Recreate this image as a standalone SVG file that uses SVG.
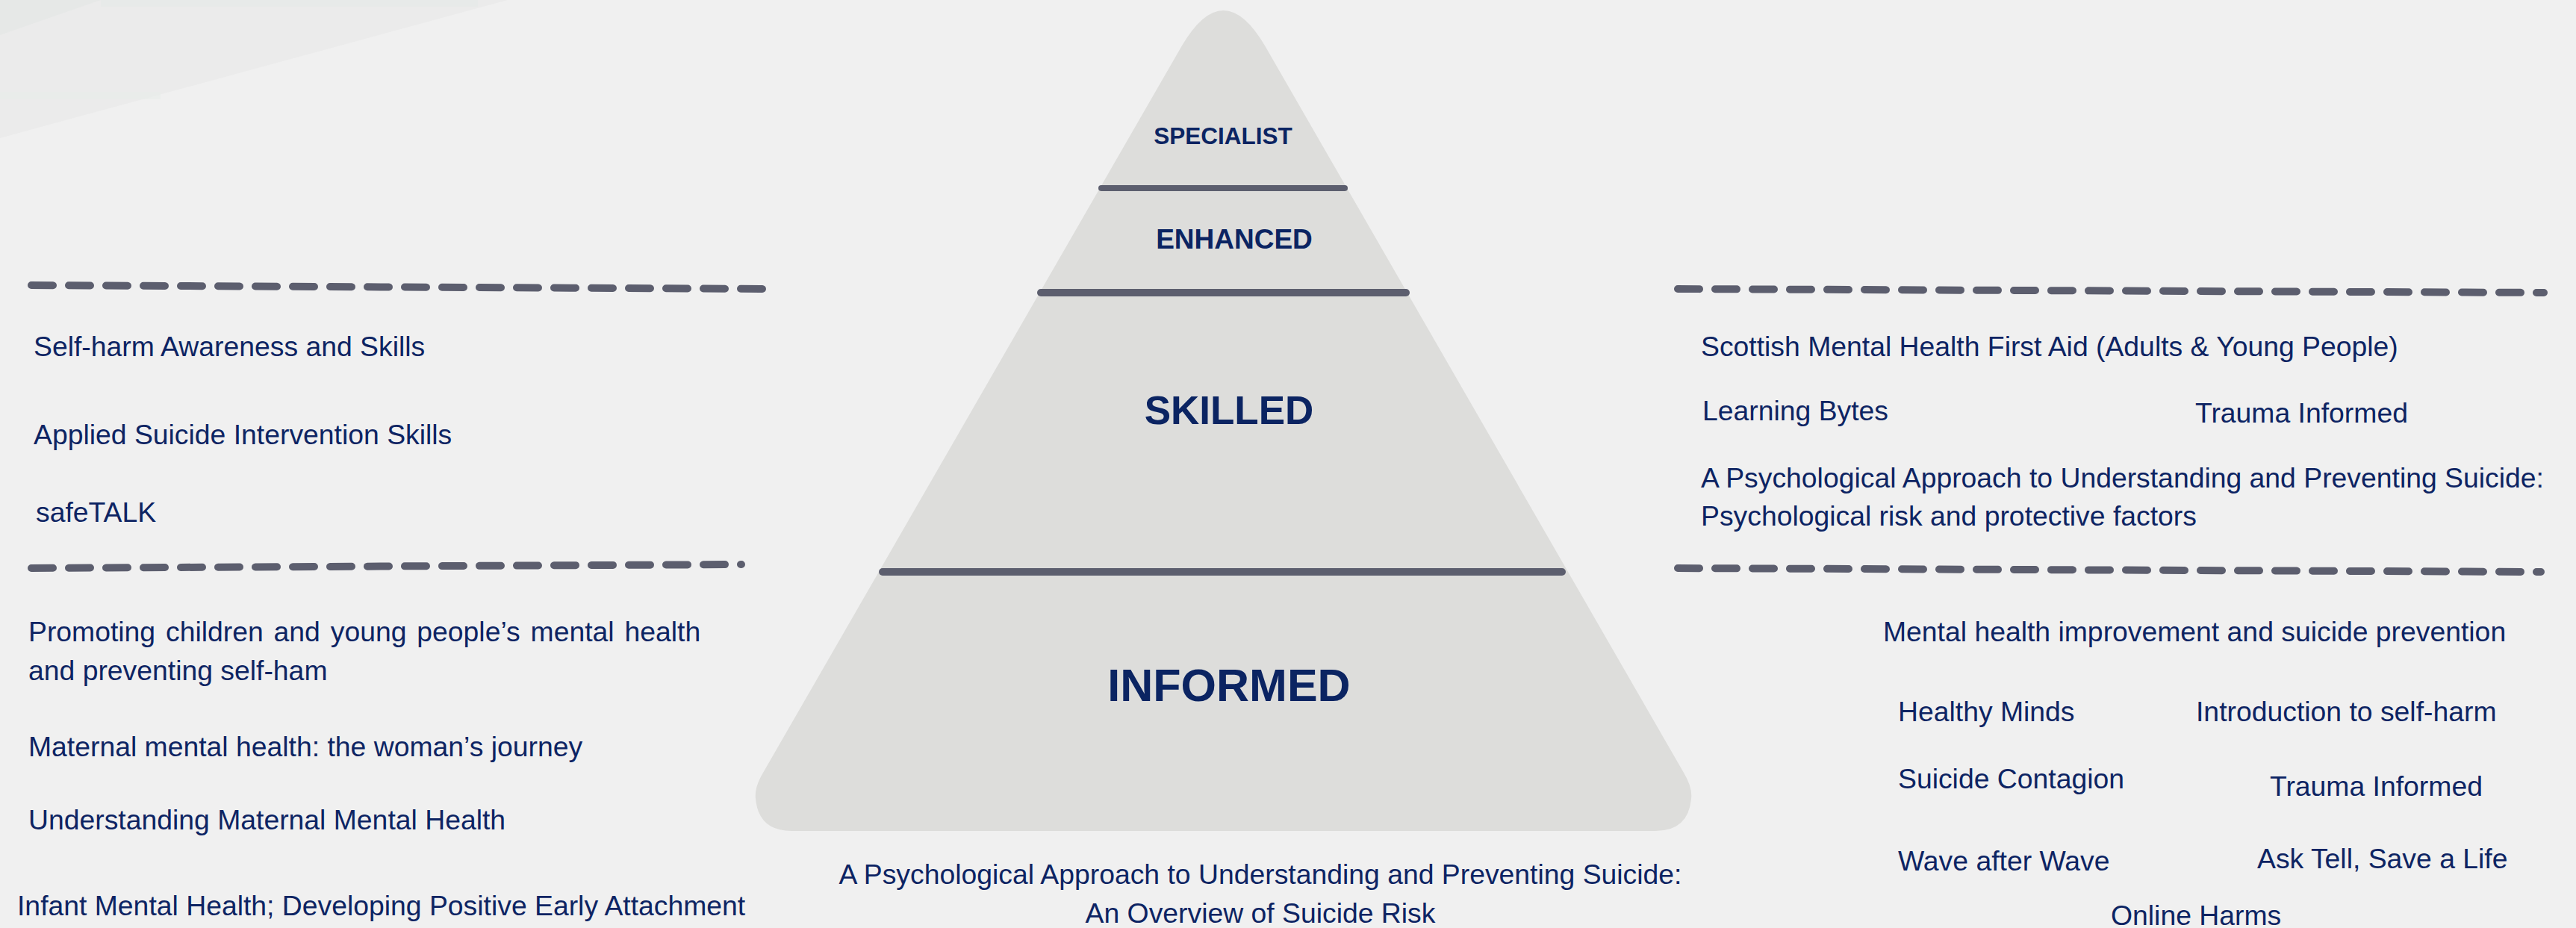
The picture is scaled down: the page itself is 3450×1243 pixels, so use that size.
<svg xmlns="http://www.w3.org/2000/svg" width="3450" height="1243" viewBox="0 0 3450 1243">
  <style>
    .item { font-family: "Liberation Sans", Arial, sans-serif; font-size: 37.35px; fill: #0d2463; }
    .tier { font-family: "Liberation Sans", Arial, sans-serif; font-weight: bold; fill: #0b2462; text-anchor: middle; }
    .rule { stroke: #5c5e6e; stroke-linecap: round; fill: none; }
    .dash { stroke: #5c5e6e; stroke-width: 10; stroke-linecap: round; stroke-dasharray: 29 21; fill: none; }
  </style>

  <!-- background -->
  <rect x="0" y="0" width="3450" height="1243" fill="#f0f0f0"/>
  <g id="corner-accent">
    <polygon points="0,0 680,0 0,185" fill="#ebebeb"/>
    <polygon points="0,0 135,0 0,47" fill="#e6e8e7"/>
    <rect x="0" y="123" width="215" height="10" fill="#e8ecea" opacity="0.7"/>
    <rect x="135" y="0" width="505" height="9" fill="#e6eae8" opacity="0.7"/>
  </g>

  <!-- pyramid body -->
  <g id="pyramid">
    <path d="M 1582.5 62 Q 1638.5 -34 1694.5 62
             L 2255 1035 Q 2267 1055 2265 1070 Q 2261 1113 2217 1113
             L 1060 1113 Q 1016 1113 1012 1070 Q 1010 1055 1022 1035 Z"
          fill="#dddddb"/>
    <line class="rule" x1="1475" y1="252" x2="1801" y2="252" stroke-width="8" stroke-linecap="butt"/>
    <line class="rule" x1="1394" y1="392" x2="1883" y2="392" stroke-width="10"/>
    <line class="rule" x1="1182" y1="766" x2="2092" y2="766" stroke-width="10"/>
  </g>

  <g id="tier-specialist"><text class="tier" x="1638" y="193" font-size="31.5">SPECIALIST</text></g>
  <g id="tier-enhanced"><text class="tier" x="1653" y="333" font-size="37">ENHANCED</text></g>
  <g id="tier-skilled"><text class="tier" x="1646" y="568" font-size="53">SKILLED</text></g>
  <g id="tier-informed"><text class="tier" x="1646" y="939" font-size="61">INFORMED</text></g>

  <g id="informed-caption">
    <text class="item" x="1688" y="1184" text-anchor="middle">A Psychological Approach to Understanding and Preventing Suicide:</text>
    <text class="item" x="1688" y="1236" text-anchor="middle">An Overview of Suicide Risk</text>
  </g>

  <!-- dashed separators -->
  <g id="connectors">
    <path class="dash" d="M 42 382 L 1022 387"/>
    <path class="dash" d="M 42 761 L 993 756"/>
    <path class="dash" d="M 2247 387 L 3407 392"/>
    <path class="dash" d="M 2247 761 L 3403 766"/>
  </g>

  <!-- skilled courses, left -->
  <g id="skilled-left">
    <text class="item" x="45" y="477">Self-harm Awareness and Skills</text>
    <text class="item" x="45" y="595">Applied Suicide Intervention Skills</text>
    <text class="item" x="48" y="699">safeTALK</text>
  </g>

  <!-- informed courses, left -->
  <g id="informed-left">
    <text class="item" x="38" y="859" word-spacing="3.5">Promoting children and young people’s mental health</text>
    <text class="item" x="38" y="911">and preventing self-ham</text>
    <text class="item" x="38" y="1013">Maternal mental health: the woman’s journey</text>
    <text class="item" x="38" y="1111">Understanding Maternal Mental Health</text>
    <text class="item" x="23" y="1226">Infant Mental Health; Developing Positive Early Attachment</text>
  </g>

  <!-- skilled courses, right -->
  <g id="skilled-right">
    <text class="item" x="2278" y="477">Scottish Mental Health First Aid (Adults &amp; Young People)</text>
    <text class="item" x="2280" y="563">Learning Bytes</text>
    <text class="item" x="2940" y="566">Trauma Informed</text>
    <text class="item" x="2278" y="653">A Psychological Approach to Understanding and Preventing Suicide:</text>
    <text class="item" x="2278" y="704">Psychological risk and protective factors</text>
  </g>

  <!-- informed courses, right -->
  <g id="informed-right">
    <text class="item" x="2522" y="859">Mental health improvement and suicide prevention</text>
    <text class="item" x="2542" y="966">Healthy Minds</text>
    <text class="item" x="2941" y="966">Introduction to self-harm</text>
    <text class="item" x="2542" y="1056">Suicide Contagion</text>
    <text class="item" x="3040" y="1066">Trauma Informed</text>
    <text class="item" x="2542" y="1166">Wave after Wave</text>
    <text class="item" x="3023" y="1163">Ask Tell, Save a Life</text>
    <text class="item" x="2827" y="1239">Online Harms</text>
  </g>
</svg>
